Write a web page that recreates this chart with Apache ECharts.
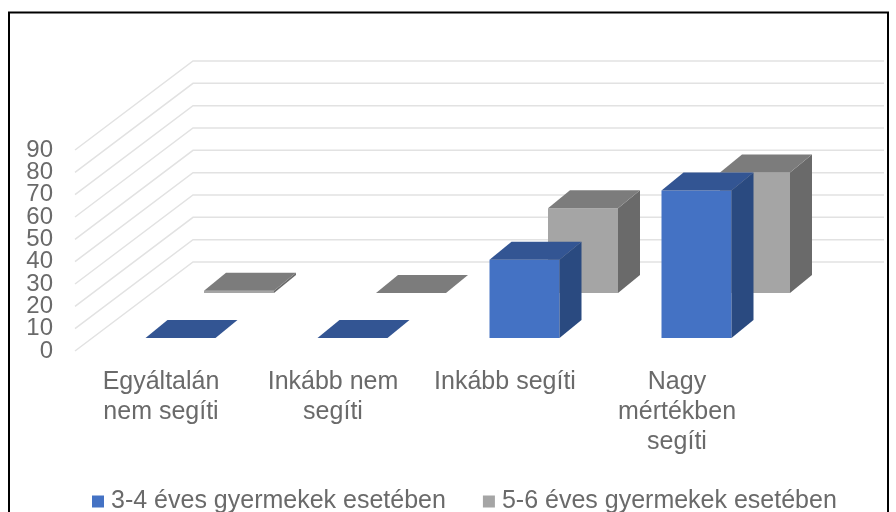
<!DOCTYPE html>
<html>
<head>
<meta charset="utf-8">
<script src="https://cdn.jsdelivr.net/npm/echarts@6/dist/echarts.min.js"></script>
<style>
html,body{margin:0;padding:0;background:#fff;overflow:hidden}
#chart{width:896px;height:512px;filter:blur(0.6px)}
</style>
</head>
<body>
<div id="chart"></div>
<script>
var categories = ['Egyáltalán\nnem segíti', 'Inkább nem\nsegíti', 'Inkább segíti', 'Nagy\nmértékben\nsegíti'];
var yTicks = [0, 10, 20, 30, 40, 50, 60, 70, 80, 90];
var younger = [0, 0, 35, 66];
var older = [1, 0, 38, 54];
var youngerName = '3-4 éves gyermekek esetében';
var olderName = '5-6 éves gyermekek esetében';

var barWidth = 70;
var depthX = 22;
var depthY = 18;
var textColor = '#6a6a6a';
var fontName = '"Liberation Sans", Arial, sans-serif';

// egy oszlop: elso lap, teteje, oldala
function bar3d(shiftX, shiftY, front, top, side) {
	return function (params, api) {
		var base = api.coord([api.value(0), 0]);
		var head = api.coord([api.value(0), api.value(1)]);
		var x0 = base[0] + shiftX - barWidth / 2;
		var x1 = x0 + barWidth;
		var y0 = base[1] - shiftY;
		var y1 = head[1] - shiftY;
		return {
			type: 'group',
			children: [
				{ type: 'polygon', shape: { points: [[x0, y0], [x1, y0], [x1, y1], [x0, y1]] }, style: { fill: front } },
				{ type: 'polygon', shape: { points: [[x1, y0], [x1 + depthX, y0 - depthY], [x1 + depthX, y1 - depthY], [x1, y1]] }, style: { fill: side } },
				{ type: 'polygon', shape: { points: [[x0, y1], [x1, y1], [x1 + depthX, y1 - depthY], [x0 + depthX, y1 - depthY]] }, style: { fill: top } }
			]
		};
	};
}

// falak racsvonalai es a tengely feliratai (az axisLabel kihagyna a szomszedos ertekeket)
function wallLine(params, api) {
	var p = api.coord([0, api.value(0)]);
	var left = params.coordSys.x;
	var right = left + params.coordSys.width;
	return {
		type: 'group',
		children: [
			{
				type: 'polyline',
				shape: { points: [[left, p[1]], [left + 118, p[1] - 89], [right + 121, p[1] - 89]] },
				style: { fill: 'none', stroke: '#e2e2e2', lineWidth: 1.5 }
			},
			{
				type: 'text',
				x: left - 22,
				y: p[1],
				style: {
					text: String(api.value(0)),
					align: 'right',
					verticalAlign: 'middle',
					fill: textColor,
					fontSize: 24,
					fontFamily: fontName
				}
			}
		]
	};
}

var ele = echarts.init(document.getElementById('chart'));
ele.setOption({
	animation: false,
	grid: { left: 75, width: 688, top: 150, height: 201, containLabel: false },
	graphic: [{
		type: 'rect',
		shape: { x: 9, y: 12.5, width: 879, height: 520 },
		style: { fill: 'none', stroke: '#000', lineWidth: 2 },
		silent: true
	}],
	legend: {
		data: [youngerName, olderName],
		left: 92,
		top: 489,
		padding: 0,
		icon: 'rect',
		itemWidth: 12,
		itemHeight: 12,
		itemGap: 37,
		textStyle: { color: textColor, fontSize: 25, fontFamily: fontName, padding: [0, 0, 0, 2] }
	},
	xAxis: {
		type: 'category',
		data: categories,
		axisLine: { show: false },
		axisTick: { show: false },
		splitLine: { show: false },
		axisLabel: { interval: 0, margin: 16, lineHeight: 30, color: textColor, fontSize: 25, fontFamily: fontName }
	},
	yAxis: {
		type: 'value',
		min: 0,
		max: 90,
		interval: 10,
		axisLine: { show: false },
		axisTick: { show: false },
		splitLine: { show: false },
		axisLabel: { show: false }
	},
	series: [
		{
			type: 'custom',
			silent: true,
			z: 1,
			renderItem: wallLine,
			encode: { y: 0 },
			data: yTicks.map(function (t) { return [t]; })
		},
		{
			name: olderName,
			type: 'custom',
			z: 2,
			itemStyle: { color: '#a5a5a5' },
			renderItem: bar3d(78, 58, '#a5a5a5', '#7c7c7c', '#6a6a6a'),
			encode: { x: 0, y: 1 },
			data: older.map(function (v, i) { return [i, v]; })
		},
		{
			name: youngerName,
			type: 'custom',
			z: 3,
			itemStyle: { color: '#4472c4' },
			renderItem: bar3d(19.5, 13, '#4472c4', '#335593', '#2a4a80'),
			encode: { x: 0, y: 1 },
			data: younger.map(function (v, i) { return [i, v]; })
		}
	]
});
</script>
</body>
</html>
